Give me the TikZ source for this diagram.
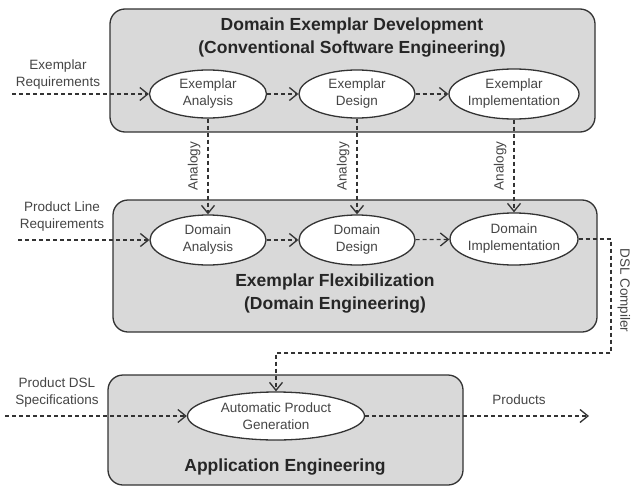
\documentclass[tikz,border=0pt]{standalone}
\usepackage{fontspec}
\setmainfont{Liberation Sans}
\usetikzlibrary{shapes.geometric,arrows.meta}
\definecolor{boxfill}{HTML}{D9D9D9}
\definecolor{linec}{HTML}{333333}
\definecolor{textc}{HTML}{454545}
\tikzset{
  phase/.style={draw=linec, line width=1.3pt, fill=boxfill, rounded corners=15pt},
  activity/.style={ellipse, draw=linec, line width=1.3pt, fill=white, inner xsep=-8pt, inner ysep=-3pt, align=center, text=textc, font=\fontsize{13.5}{17}\selectfont},
  lbl/.style={align=center, text=textc, font=\fontsize{13.5}{17}\selectfont, inner sep=0pt},
  ttl/.style={align=center, text=black!85, font=\fontsize{17.5}{23}\selectfont\bfseries, inner sep=0pt},
  flow/.style={draw=linec, line width=1.2pt, dash pattern=on 4pt off 3pt, -{Straight Barb[length=8pt,width=13pt,line width=1.3pt]}}
}
\begin{document}
\begin{tikzpicture}[x=1pt,y=-1pt]
\useasboundingbox (0,0) rectangle (631,487);
% phases
\draw[phase] (110,9) rectangle (595,132);
\draw[phase] (113,200) rectangle (597,332);
\draw[phase] (108,375) rectangle (463,485);
% titles
\node[ttl] (t1) at (352,38) {Domain Exemplar Development\\(Conventional Software Engineering)};
\node[ttl] (t2) at (335,294) {Exemplar Flexibilization\\(Domain Engineering)};
\node[ttl] (t3) at (285,467) {Application Engineering};
% activities
\node[activity, minimum width=117pt, minimum height=48pt] (ea) at (208,94) {Exemplar\\Analysis};
\node[activity, minimum width=116pt, minimum height=48pt] (ed) at (357,94) {Exemplar\\Design};
\node[activity, minimum width=130pt, minimum height=50pt] (ei) at (514,94) {Exemplar\\Implementation};
\node[activity, minimum width=116pt, minimum height=50pt] (da) at (208,240) {Domain\\Analysis};
\node[activity, minimum width=116pt, minimum height=50pt] (dd) at (357,240) {Domain\\Design};
\node[activity, minimum width=128pt, minimum height=52pt] (di) at (514,239) {Domain\\Implementation};
\node[activity, minimum width=177pt, minimum height=48pt] (ap) at (276,416) {Automatic Product\\Generation};
% outer labels
\node[lbl] (l1) at (58,75) {Exemplar\\Requirements};
\node[lbl] (l2) at (62,217) {Product Line\\Requirements};
\node[lbl] (l3) at (57,393) {Product DSL\\Specifications};
\node[lbl] (l4) at (519,400) {Products};
\coordinate (s1) at (12,94);
\coordinate (s2) at (18,240);
\coordinate (s3) at (5,416);
\coordinate (e4) at (589,416);
% flows
\draw[flow] (s1) -- (ea);
\draw[flow] (ea) -- (ed);
\draw[flow] (ed) -- (ei);
\draw[flow] (s2) -- (da);
\draw[flow] (da) -- (dd);
\draw[flow] (dd) -- (di);
\draw[flow] (s3) -- (ap);
\draw[flow] (ap) -- (e4);
% analogy
\draw[flow] (ea) -- node[lbl, rotate=90, anchor=south, inner sep=7pt] {Analogy} (da);
\draw[flow] (ed) -- node[lbl, rotate=90, anchor=south, inner sep=7pt] {Analogy} (dd);
\draw[flow] (ei) -- node[lbl, rotate=90, anchor=south, inner sep=7pt] {Analogy} (di);
% DSL compiler
\coordinate (c1) at (611,239);
\coordinate (c2) at (611,353);
\coordinate (c3) at (276,353);
\draw[flow] (di.east) -- (c1) -- node[lbl, rotate=-90, anchor=south, inner sep=6pt, pos=0.45] {DSL Compiler} (c2) -- (c3) -- (ap.north);
\end{tikzpicture}
\end{document}
